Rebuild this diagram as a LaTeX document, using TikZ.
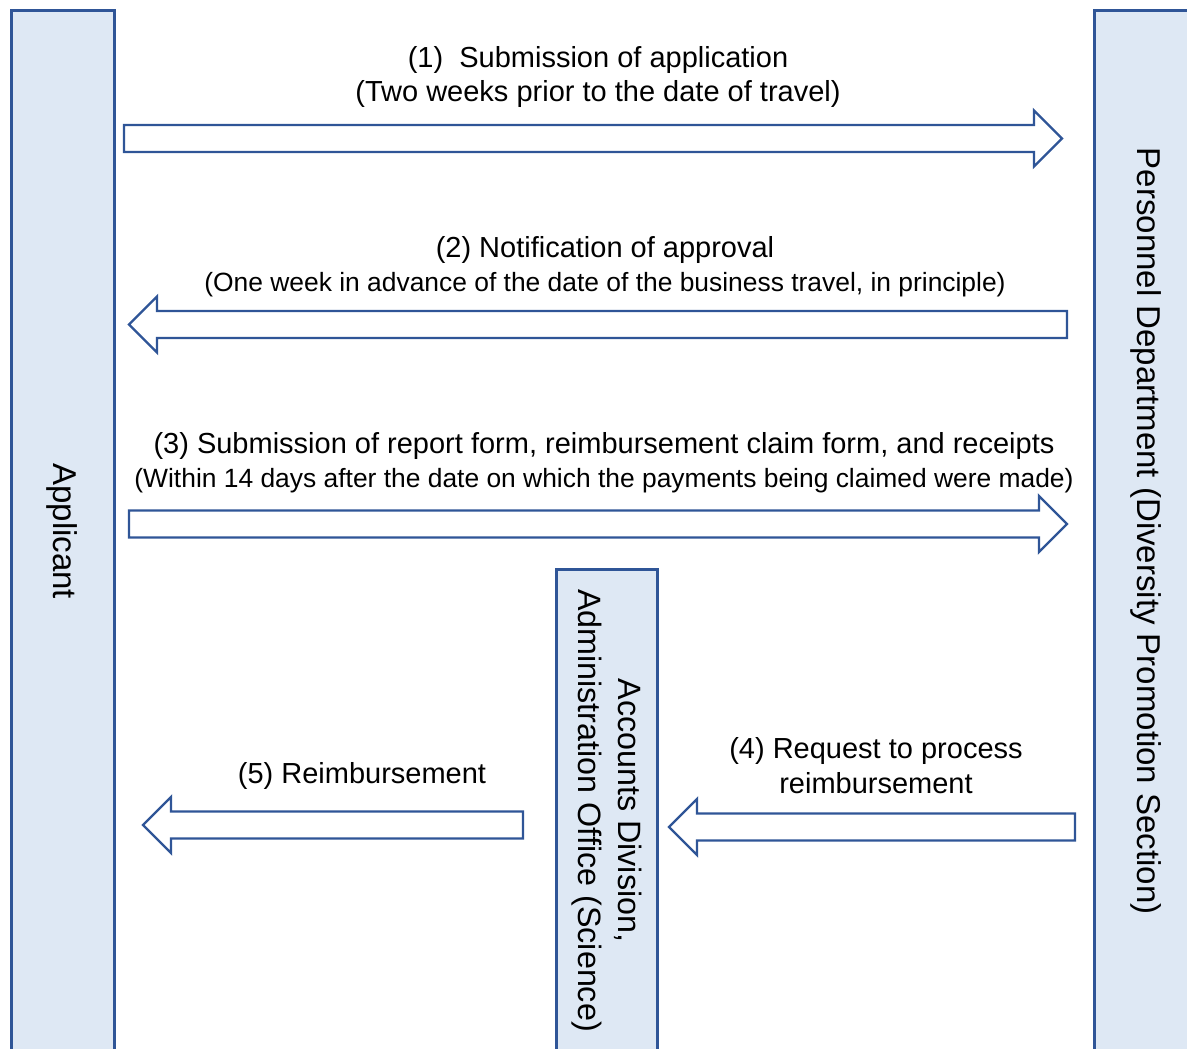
\documentclass[tikz,border=0pt]{standalone}
\usepackage{fontspec}
\setmainfont{Liberation Sans}
\usetikzlibrary{calc}
\definecolor{edgeblue}{HTML}{2F5597}
\definecolor{lanefill}{HTML}{DEE8F4}
\tikzset{
  lane/.style={draw=edgeblue, line width=3pt, fill=lanefill, rotate=-90, inner sep=0pt,
    font=\fontsize{33}{40}\selectfont, align=center},
  barrow/.style={draw=edgeblue, line width=2.4pt, fill=white, line join=miter},
  lbl/.style={inner sep=0pt, anchor=base, font=\fontsize{29}{35}\selectfont},
  sublbl/.style={inner sep=0pt, anchor=base, font=\fontsize{26.4}{32}\selectfont}
}
\newcommand\blockarr[3]{%
  \draw[barrow] ($(#1)+(0,13.5)$) -- ($(#2)+(#3,13.5)$) -- ($(#2)+(#3,28)$) -- (#2)
    -- ($(#2)+(#3,-28)$) -- ($(#2)+(#3,-13.5)$) -- ($(#1)+(0,-13.5)$) -- cycle;}
\begin{document}
\begin{tikzpicture}[x=1pt,y=-1pt]
\useasboundingbox (0,0) rectangle (1187,1049);
% lanes
\node[lane, minimum width=1041.5pt, minimum height=103pt] (app) at (62.5,531.25) {Applicant};
\node[lane, minimum width=1041.5pt, minimum height=103pt] (pers) at (1146,531.25)
  {Personnel Department (Diversity Promotion Section)};
\node[lane, minimum width=483pt, minimum height=101.5pt, font=\fontsize{32.3}{40}\selectfont] (acc) at (607,810.5)
  {Accounts Division,\\Administration Office (Science)};
% arrow end points
\coordinate (a1s) at (124,138.5); \coordinate (a1t) at (1062,138.5);
\coordinate (a2s) at (1067,324.5); \coordinate (a2t) at (129,324.5);
\coordinate (a3s) at (129,524); \coordinate (a3t) at (1067,524);
\coordinate (a4s) at (1075,827); \coordinate (a4t) at (669,827);
\coordinate (a5s) at (523,825); \coordinate (a5t) at (143,825);
\blockarr{a1s}{a1t}{-28}
\blockarr{a2s}{a2t}{28}
\blockarr{a3s}{a3t}{-28}
\blockarr{a4s}{a4t}{28}
\blockarr{a5s}{a5t}{28}
% labels
\node[lbl] (l1a) at (598,67) {(1)\ \ Submission of application};
\node[lbl] (l1b) at (598,102) {(Two weeks prior to the date of travel)};
\node[lbl] (l2a) at (605,257) {(2) Notification of approval};
\node[sublbl] (l2b) at (605,291) {(One week in advance of the date of the business travel, in principle)};
\node[lbl] (l3a) at (604,453) {(3) Submission of report form, reimbursement claim form, and receipts};
\node[sublbl] (l3b) at (604,487) {(Within 14 days after the date on which the payments being claimed were made)};
\node[lbl] (l4a) at (876,758) {(4) Request to process};
\node[lbl] (l4b) at (876,793) {reimbursement};
\node[lbl] (l5) at (362,783) {(5) Reimbursement};
\end{tikzpicture}
\end{document}
